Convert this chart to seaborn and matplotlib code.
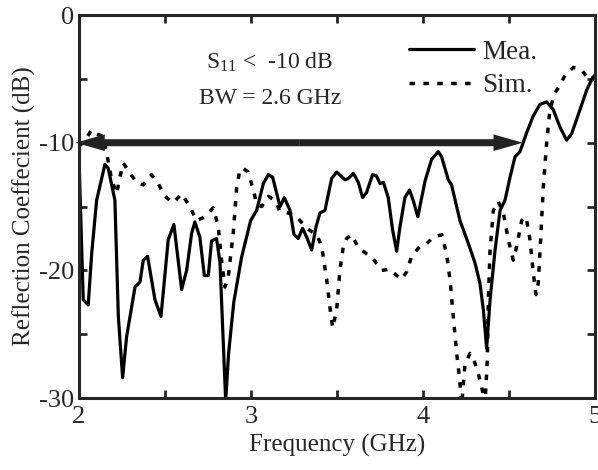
import matplotlib
matplotlib.use("Agg")
import matplotlib.pyplot as plt
from matplotlib.ticker import MultipleLocator
import seaborn as sns

# Measured reflection coefficient (solid)
mea_freq = [2.000, 2.025, 2.054, 2.074, 2.103, 2.151, 2.170, 2.209, 2.229, 2.254,
            2.277, 2.326, 2.355, 2.374, 2.399, 2.442, 2.477, 2.519, 2.552, 2.597,
            2.626, 2.655, 2.674, 2.703, 2.729, 2.752, 2.771, 2.800, 2.820, 2.853,
            2.870, 2.900, 2.945, 2.998, 3.033, 3.072, 3.101, 3.126, 3.169, 3.194,
            3.227, 3.250, 3.275, 3.300, 3.324, 3.353, 3.378, 3.401, 3.430, 3.469,
            3.498, 3.547, 3.566, 3.595, 3.624, 3.649, 3.672, 3.707, 3.730, 3.750,
            3.770, 3.798, 3.823, 3.847, 3.866, 3.895, 3.922, 3.945, 3.970, 4.012,
            4.050, 4.089, 4.108, 4.147, 4.166, 4.215, 4.264, 4.302, 4.331, 4.351,
            4.370, 4.390, 4.419, 4.448, 4.477, 4.506, 4.535, 4.564, 4.603, 4.641,
            4.680, 4.719, 4.757, 4.797, 4.835, 4.864, 4.913, 4.951, 4.986, 5.000]
mea_db = [-11.0, -22.3, -22.7, -18.7, -14.5, -11.7, -12.0, -14.5, -23.6, -28.4,
          -25.2, -21.3, -20.9, -19.2, -18.9, -22.3, -23.6, -17.6, -16.4, -21.5,
          -20.0, -17.1, -16.2, -17.4, -20.4, -20.4, -17.7, -17.5, -19.4, -30.2,
          -26.5, -22.5, -19.0, -16.1, -15.3, -13.2, -12.5, -12.7, -15.0, -14.3,
          -15.3, -17.2, -17.5, -16.7, -17.4, -18.4, -16.6, -15.5, -15.3, -12.8,
          -12.3, -12.9, -12.8, -12.4, -13.1, -14.3, -13.9, -12.5, -12.6, -13.2,
          -13.1, -14.3, -16.8, -18.5, -16.6, -14.3, -13.7, -14.6, -15.8, -13.0,
          -11.3, -10.7, -11.1, -12.9, -13.3, -16.1, -17.9, -19.4, -21.0, -23.1,
          -26.1, -22.3, -18.4, -15.3, -14.5, -12.7, -11.1, -10.7, -9.2, -7.9,
          -7.0, -6.8, -7.4, -8.8, -9.8, -9.3, -7.4, -5.9, -4.9, -4.7]

# Simulated reflection coefficient (dotted)
sim_freq = [2.000, 2.035, 2.074, 2.100, 2.141, 2.161, 2.190, 2.219, 2.238, 2.258,
            2.297, 2.335, 2.374, 2.422, 2.461, 2.500, 2.548, 2.597, 2.645, 2.684,
            2.733, 2.781, 2.810, 2.829, 2.849, 2.868, 2.897, 2.917, 2.936, 2.955,
            2.984, 3.014, 3.033, 3.062, 3.101, 3.140, 3.169, 3.217, 3.266, 3.324,
            3.382, 3.411, 3.440, 3.459, 3.475, 3.498, 3.517, 3.537, 3.556, 3.585,
            3.624, 3.672, 3.711, 3.760, 3.808, 3.847, 3.876, 3.905, 3.934, 3.983,
            4.022, 4.060, 4.109, 4.137, 4.157, 4.176, 4.196, 4.211, 4.225, 4.244,
            4.273, 4.290, 4.316, 4.341, 4.360, 4.374, 4.380, 4.390, 4.409, 4.438,
            4.467, 4.496, 4.525, 4.545, 4.574, 4.599, 4.622, 4.641, 4.657, 4.670,
            4.684, 4.699, 4.719, 4.738, 4.767, 4.797, 4.826, 4.874, 4.922, 4.951,
            4.980, 5.000]
sim_db = [-10.3, -9.8, -9.0, -9.3, -9.5, -10.8, -12.9, -14.0, -12.7, -11.6,
          -12.4, -13.1, -13.3, -12.5, -13.2, -14.2, -14.7, -14.0, -15.0, -16.1,
          -15.8, -15.1, -16.6, -19.2, -21.3, -20.5, -17.1, -13.5, -12.1, -12.0,
          -12.3, -13.7, -14.8, -15.0, -14.2, -14.5, -15.4, -15.5, -15.8, -16.7,
          -17.2, -18.1, -20.7, -22.9, -24.5, -23.1, -20.0, -18.1, -17.5, -17.2,
          -18.2, -18.7, -19.1, -20.0, -19.9, -20.4, -20.7, -20.1, -18.9, -18.1,
          -17.9, -17.4, -17.2, -18.7, -20.7, -23.6, -26.5, -28.3, -30.5, -27.4,
          -26.5, -26.8, -27.8, -29.1, -30.5, -27.0, -22.3, -18.4, -15.3, -14.6,
          -15.5, -17.6, -19.2, -18.1, -16.1, -15.8, -17.6, -20.2, -21.9, -21.0,
          -17.6, -13.5, -10.0, -7.4, -6.1, -5.5, -4.7, -4.1, -4.3, -4.8,
          -5.0, -5.0]

# -10 dB bandwidth marker
bw_start, bw_end, bw_level = 1.98, 4.58, -10

sns.set_style("ticks")
plt.rcParams["font.family"] = ["Liberation Serif", "DejaVu Serif"]
plt.rcParams["mathtext.fontset"] = "custom"
plt.rcParams["mathtext.rm"] = "Liberation Serif"
plt.rcParams["axes.unicode_minus"] = False

fig = plt.figure(figsize=(5.98, 4.70), dpi=100)
ax = fig.add_axes([0.132, 0.153, 0.863, 0.815])

sns.lineplot(x=mea_freq, y=mea_db, ax=ax, color="black", lw=2.3, label="Mea.")
sns.lineplot(x=sim_freq, y=sim_db, ax=ax, color="black", lw=2.5,
             linestyle=(0, (1.6, 2.4)), label="Sim.")

# double-headed bandwidth arrow: two sharp arrows from the middle outwards
mid = (bw_start + bw_end) / 2
for end in (bw_start, bw_end):
    ax.arrow(mid, bw_level, end - mid, 0, width=0.55, head_width=1.3,
             head_length=0.17, length_includes_head=True, color="#222222",
             lw=0, clip_on=False, zorder=3)

ax.text(3.11, -3.7, r"$\mathregular{S_{11}}$ <  -10 dB", ha="center", va="center", fontsize=17)
ax.text(3.11, -6.5, "BW = 2.6 GHz", ha="center", va="center", fontsize=17)

ax.set_xlim(2, 5)
ax.set_ylim(-30, 0)
ax.xaxis.set_major_locator(MultipleLocator(1))
ax.xaxis.set_minor_locator(MultipleLocator(0.5))
ax.yaxis.set_major_locator(MultipleLocator(10))
ax.yaxis.set_minor_locator(MultipleLocator(5))
ax.tick_params(which="both", direction="in", top=True, right=True,
               length=6, width=2, labelsize=19)
ax.tick_params(axis="x", pad=6)
for s in ax.spines.values():
    s.set_linewidth(2.2)

ax.set_xlabel("Frequency (GHz)", fontsize=18, labelpad=4)
ax.set_ylabel("Reflection Coeffecient (dB)", fontsize=18, labelpad=2)

ax.legend(loc="upper left", bbox_to_anchor=(0.64, 0.935), frameon=False,
          fontsize=19.5, handlelength=2.4, handletextpad=0.3,
          labelspacing=0.3, borderpad=0, borderaxespad=0)

fig.savefig("out.png", dpi=100)
